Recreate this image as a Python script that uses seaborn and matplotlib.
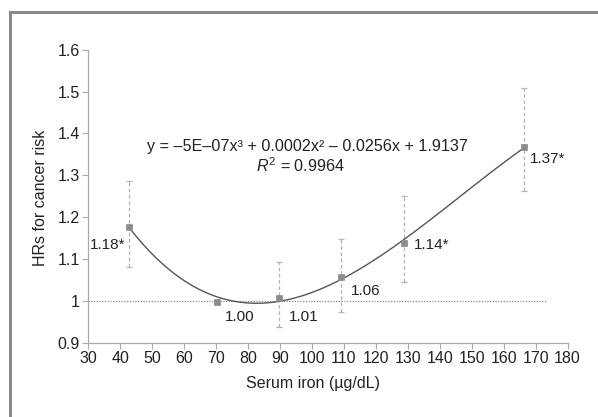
import matplotlib
matplotlib.use("Agg")
import matplotlib.pyplot as plt
import seaborn as sns
import numpy as np
import pandas as pd
from matplotlib.lines import Line2D

# ---- data ----
iron = [42.8, 70.4, 89.8, 109.1, 128.8, 166.5]
hr = [1.178, 0.999, 1.008, 1.058, 1.139, 1.368]
ci_low = [1.082, 0.999, 0.937, 0.975, 1.046, 1.263]
ci_high = [1.287, 0.999, 1.094, 1.148, 1.252, 1.509]
point_labels = ["1.18*", "1.00", "1.01", "1.06", "1.14*", "1.37*"]
x_ticks = list(range(30, 181, 10))
y_ticks = [0.9, 1.0, 1.1, 1.2, 1.3, 1.4, 1.5, 1.6]
y_tick_labels = ["0.9", "1", "1.1", "1.2", "1.3", "1.4", "1.5", "1.6"]
ref_y = 1.0
ref_x_end = 173.5
equation = "y = \u20135E\u201307x\u00b3 + 0.0002x\u00b2 \u2013 0.0256x + 1.9137"
r2_text = r"$R^2$ = 0.9964"

df = pd.DataFrame({"iron": iron, "hr": hr})

sns.set_theme(style="white")
plt.rcParams["font.family"] = ["Liberation Sans", "DejaVu Sans"]
plt.rcParams["mathtext.fontset"] = "custom"
plt.rcParams["mathtext.rm"] = "Liberation Sans"
plt.rcParams["mathtext.it"] = "Liberation Sans:italic"

fig = plt.figure(figsize=(5.98, 4.17), dpi=100)
ax = fig.add_axes([0.1477, 0.1775, 0.8015, 0.7033])

# frame around figure (top and left only visible)
fig.add_artist(Line2D([9.5 / 598, 9.5 / 598], [1 - 11.5 / 417, 0], transform=fig.transFigure,
                      color="#8a8a8a", lw=2.2, solid_capstyle="projecting"))
fig.add_artist(Line2D([9.5 / 598, 1], [1 - 11.5 / 417, 1 - 11.5 / 417], transform=fig.transFigure,
                      color="#8a8a8a", lw=2.2, solid_capstyle="projecting"))

# reference line
ax.plot([x_ticks[0], ref_x_end], [ref_y, ref_y], ls=(0, (1, 1.2)), color="#8c8c8c", lw=0.9, zorder=1)

# error bars
err = np.array([np.array(hr) - np.array(ci_low), np.array(ci_high) - np.array(hr)])
ax.errorbar(iron, hr, yerr=err, fmt="none", ecolor="#b5b5b5", elinewidth=0.9,
            capsize=2.5, capthick=0.9, ls="none", zorder=2)
for line in ax.collections:
    line.set_linestyle((0, (3, 2)))

# cubic trend line
sns.regplot(data=df, x="iron", y="hr", order=3, ci=None, scatter=False, truncate=True,
            line_kws=dict(color="#555555", lw=1.0, zorder=3), ax=ax)

# markers
sns.scatterplot(data=df, x="iron", y="hr", marker="s", s=18, color="#8c8c8c",
                edgecolor="#8c8c8c", linewidth=0.5, zorder=4, ax=ax)

# point labels
lab_pos = [(41.5, 1.134, "right"), (77.3, 0.963, "center"), (97.4, 0.962, "center"),
           (116.9, 1.025, "center"), (131.9, 1.134, "left"), (168.2, 1.338, "left")]
for (lx, ly, ha), t in zip(lab_pos, point_labels):
    ax.text(lx, ly, t, ha=ha, va="center", fontsize=11, color="#222222")

ax.text(98.6, 1.368, equation, ha="center", va="center", fontsize=11.6, color="#222222")
ax.text(96.5, 1.323, r2_text, ha="center", va="center", fontsize=11.6, color="#222222")

ax.set_xlim(30, 180)
ax.set_ylim(0.9, 1.6)
ax.set_xticks(x_ticks)
ax.set_yticks(y_ticks)
ax.set_yticklabels(y_tick_labels)
ax.tick_params(axis="both", which="major", length=4, width=0.8, color="#aaaaaa",
               labelsize=11.5, labelcolor="#222222", direction="out", pad=2,
               bottom=True, left=True)
for s in ["top", "right"]:
    ax.spines[s].set_visible(False)
for s in ["left", "bottom"]:
    ax.spines[s].set_color("#aaaaaa")
    ax.spines[s].set_linewidth(0.9)

ax.set_xlabel("Serum iron (\u00b5g/dL)", fontsize=11.5, color="#222222")
ax.set_ylabel("HRs for cancer risk", fontsize=11.5, color="#222222")
ax.xaxis.set_label_coords(0.469, -0.112)
ax.yaxis.set_label_coords(-0.084, 0.496)

fig.savefig("out.png", dpi=100)
